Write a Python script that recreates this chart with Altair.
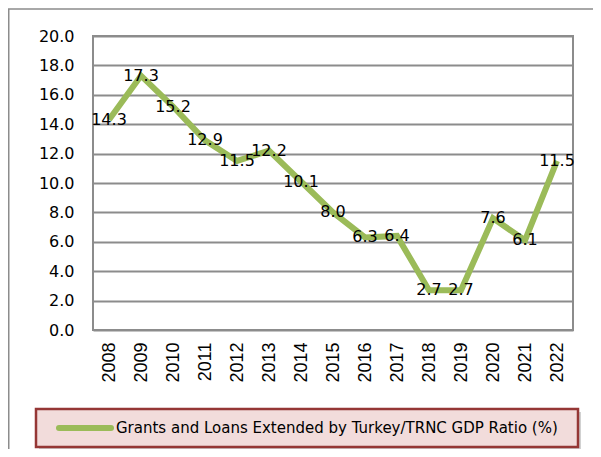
import altair as alt
import pandas as pd

years = ["2008", "2009", "2010", "2011", "2012", "2013", "2014", "2015",
         "2016", "2017", "2018", "2019", "2020", "2021", "2022"]
values = [14.3, 17.3, 15.2, 12.9, 11.5, 12.2, 10.1, 8.0, 6.3, 6.4, 2.7, 2.7, 7.6, 6.1, 11.5]
series_name = "Grants and Loans Extended by Turkey/TRNC GDP Ratio (%)"
y_ticks = [0, 2, 4, 6, 8, 10, 12, 14, 16, 18, 20]

df = pd.DataFrame({"year": years, "value": values})
one = pd.DataFrame({"k": [0]})

GRID = "#8c8c8c"
GREEN = "#9bbb59"

x_enc = alt.X("year:O", sort=years,
              scale=alt.Scale(type="point", padding=0.5),
              axis=alt.Axis(labelAngle=-90, domain=False, ticks=False, grid=False,
                            labelPadding=12, labelFont="Liberation Sans",
                            labelFontSize=18, labelColor="#000000", title=None))
y_enc = alt.Y("value:Q", scale=alt.Scale(domain=[0, 20], nice=False, zero=True),
              axis=alt.Axis(values=y_ticks, tickCount=11, format=".1f", grid=True,
                            gridColor=GRID, gridWidth=2, domain=False, ticks=False,
                            labelPadding=19, labelOverlap=False, labelFont="DejaVu Sans",
                            labelFontSize=16, labelColor="#000000", title=None))

frame = alt.Chart(one).mark_rect(fillOpacity=0, stroke=GRID, strokeWidth=1.5).encode(
    x=alt.value(-84.25), x2=alt.value(700), y=alt.value(-27), y2=alt.value(700))

line = alt.Chart(df).mark_line(color=GREEN, strokeWidth=6, strokeJoin="miter").encode(
    x=x_enc, y=y_enc)

labels = alt.Chart(df).mark_text(font="DejaVu Sans", fontSize=16, color="#000000",
                                 align="center", baseline="middle").encode(
    x=x_enc, y=y_enc, text=alt.Text("value:Q", format=".1f"))

shadow = alt.Chart(one).mark_rect(fill="#000000", fillOpacity=0.18).encode(
    x=alt.value(-54), x2=alt.value(488), y=alt.value(376), y2=alt.value(414))
leg_box = alt.Chart(one).mark_rect(fill="#f2dcdb", stroke="#953735", strokeWidth=2.5).encode(
    x=alt.value(-57), x2=alt.value(485), y=alt.value(373), y2=alt.value(411))
leg_sym = alt.Chart(one).mark_rule(color=GREEN, strokeWidth=6, strokeCap="round").encode(
    x=alt.value(-34), x2=alt.value(18), y=alt.value(392))
leg_txt = alt.Chart(one).mark_text(font="DejaVu Sans", fontSize=15, color="#000000",
                                   align="left", baseline="middle").encode(
    x=alt.value(23), y=alt.value(392), text=alt.value(series_name))

chart = alt.layer(frame, line, labels, shadow, leg_box, leg_sym, leg_txt).properties(
    width=480, height=294,
    autosize=alt.AutoSizeParams(type="none"),
    padding={"left": 85, "top": 28, "right": 20, "bottom": 119},
    background="#ffffff",
).configure_view(stroke=GRID, strokeWidth=2)

chart.save("out.html", embed_options={"renderer": "svg", "actions": False})
